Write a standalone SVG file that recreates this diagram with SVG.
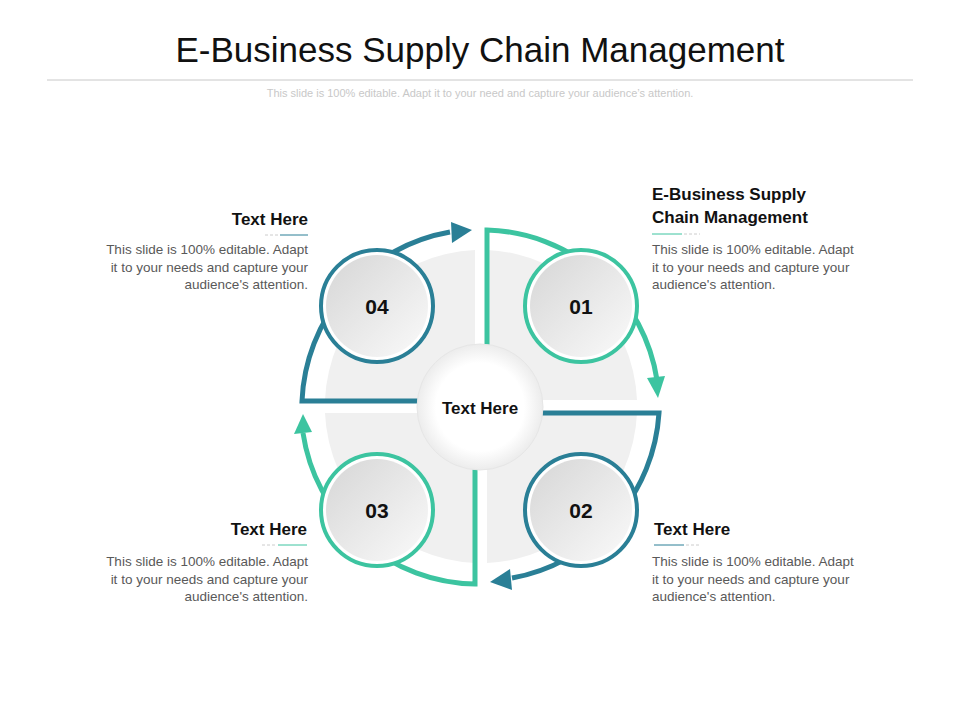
<svg xmlns="http://www.w3.org/2000/svg" width="960" height="720" viewBox="0 0 960 720">
<style>
.t{font-family:"Liberation Sans",Arial,sans-serif}
.h{font-size:17px;font-weight:bold;fill:#111}
.b{font-size:13.5px;fill:#595959}
.n{font-size:21px;font-weight:bold;fill:#111;text-anchor:middle}
.g{fill:none;stroke:#3cc4a0;stroke-width:5}
.d{fill:none;stroke:#2a7f96;stroke-width:5}
</style>
<defs>
<linearGradient id="ng" x1="0" y1="0" x2="1" y2="1"><stop offset="0" stop-color="#d6d6d6"/><stop offset="1" stop-color="#fafafa"/></linearGradient>
<radialGradient id="cg"><stop offset="0.7" stop-color="#fff"/><stop offset="1" stop-color="#ececec"/></radialGradient>
</defs>
<rect width="960" height="720" fill="#fff"/>
<text class="t" x="480" y="62" font-size="35" fill="#111" text-anchor="middle">E-Business Supply Chain Management</text>
<line x1="47" y1="80" x2="913" y2="80" stroke="#c8c8c8" stroke-width="1"/>
<text class="t" x="480" y="97" font-size="11" fill="#c8c8c8" text-anchor="middle">This slide is 100% editable. Adapt it to your need and capture your audience’s attention.</text>
<g id="bg" fill="#f0f0f0">
<path d="M487,400 L487,250 A157,157 0 0 1 637,400 Z"/>
<path d="M487,413 L637,413 A157,157 0 0 1 487,563 Z"/>
<path d="M475,413 L475,563 A157,157 0 0 1 325,413 Z"/>
<path d="M475,400 L325,400 A157,157 0 0 1 475,250 Z"/>
</g>
<g id="connectors">
<path class="g" d="M487,350 L487,230 A177,177 0 0 1 657,380"/>
<polygon points="647,378 665,376 658,398" fill="#3cc4a0"/>
<path class="d" d="M540,413 L659,413 A179,179 0 0 1 512,578"/>
<polygon points="510,569 512,590 490,582" fill="#2a7f96"/>
<path class="g" d="M475,465 L475,584 A177,177 0 0 1 303,433"/>
<polygon points="294,434 312,432 303,414" fill="#3cc4a0"/>
<path class="d" d="M420,401 L302,401 A179,179 0 0 1 450,232"/>
<polygon points="451,222 452,243 472,230" fill="#2a7f96"/>
</g>
<g id="center"><circle cx="480" cy="407" r="63" fill="url(#cg)" stroke="#e6e6e6" stroke-width="1"/><text class="t" x="480" y="414" font-size="17" font-weight="bold" fill="#111" text-anchor="middle">Text Here</text></g>
<g id="n01"><circle cx="581" cy="306" r="56" fill="#fff" stroke="#3cc4a0" stroke-width="4"/><circle cx="581" cy="306" r="51" fill="url(#ng)"/><text class="t n" x="581" y="314">01</text></g>
<g id="n02"><circle cx="581" cy="510" r="56" fill="#fff" stroke="#2a7f96" stroke-width="4"/><circle cx="581" cy="510" r="51" fill="url(#ng)"/><text class="t n" x="581" y="518">02</text></g>
<g id="n03"><circle cx="377" cy="510" r="56" fill="#fff" stroke="#3cc4a0" stroke-width="4"/><circle cx="377" cy="510" r="51" fill="url(#ng)"/><text class="t n" x="377" y="518">03</text></g>
<g id="n04"><circle cx="377" cy="306" r="56" fill="#fff" stroke="#2a7f96" stroke-width="4"/><circle cx="377" cy="306" r="51" fill="url(#ng)"/><text class="t n" x="377" y="314">04</text></g>
<g id="t04" class="t" text-anchor="end">
<text class="h" x="308" y="225">Text Here</text>
<line x1="280" y1="235" x2="308" y2="235" stroke="#2a7f96"/><line x1="265" y1="235" x2="278" y2="235" stroke="#ccc" stroke-dasharray="3,2"/>
<text class="b" x="308" y="254">This slide is 100% editable. Adapt</text>
<text class="b" x="308" y="272">it to your needs and capture your</text>
<text class="b" x="308" y="289">audience's attention.</text>
</g>
<g id="t01" class="t">
<text class="h" x="652" y="200">E-Business Supply</text>
<text class="h" x="652" y="223">Chain Management</text>
<line x1="652" y1="234" x2="682" y2="234" stroke="#3cc4a0"/><line x1="684" y1="234" x2="700" y2="234" stroke="#ccc" stroke-dasharray="3,2"/>
<text class="b" x="652" y="254">This slide is 100% editable. Adapt</text>
<text class="b" x="652" y="272">it to your needs and capture your</text>
<text class="b" x="652" y="289">audience's attention.</text>
</g>
<g id="t02" class="t">
<text class="h" x="654" y="535">Text Here</text>
<line x1="654" y1="545" x2="684" y2="545" stroke="#2a7f96"/><line x1="686" y1="545" x2="700" y2="545" stroke="#ccc" stroke-dasharray="3,2"/>
<text class="b" x="652" y="566">This slide is 100% editable. Adapt</text>
<text class="b" x="652" y="584">it to your needs and capture your</text>
<text class="b" x="652" y="601">audience's attention.</text>
</g>
<g id="t03" class="t" text-anchor="end">
<text class="h" x="307" y="535">Text Here</text>
<line x1="278" y1="545" x2="307" y2="545" stroke="#3cc4a0"/><line x1="262" y1="545" x2="276" y2="545" stroke="#ccc" stroke-dasharray="3,2"/>
<text class="b" x="308" y="566">This slide is 100% editable. Adapt</text>
<text class="b" x="308" y="584">it to your needs and capture your</text>
<text class="b" x="308" y="601">audience's attention.</text>
</g>
</svg>
